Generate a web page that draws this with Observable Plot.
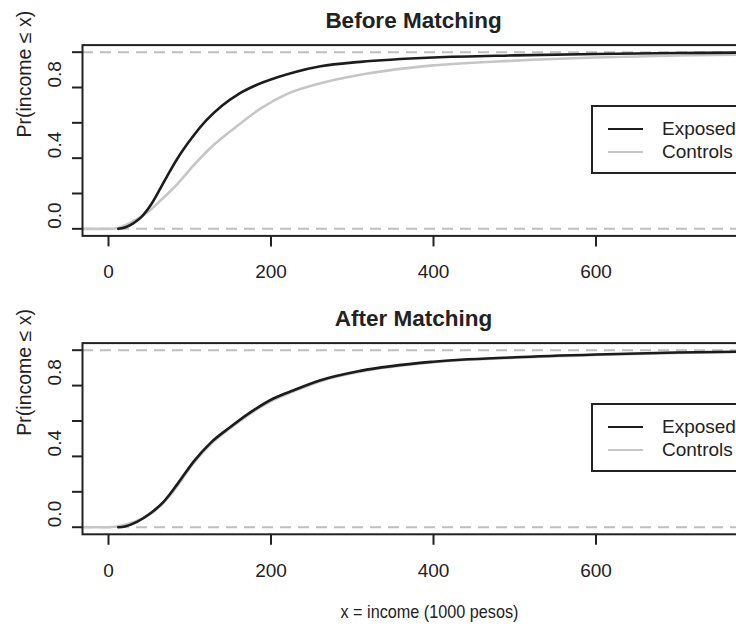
<!DOCTYPE html>
<html>
<head>
<meta charset="utf-8">
<script src="https://cdn.jsdelivr.net/npm/d3@7"></script>
<script src="https://cdn.jsdelivr.net/npm/@observablehq/plot@0.6"></script>
<style>
  html, body { margin: 0; padding: 0; background: #fff; overflow: hidden; }
  #wrap { width: 736px; height: 629px; overflow: hidden; position: relative; font-family: "Liberation Sans", Arial, sans-serif; color: #222; }
  .panel { position: relative; width: 736px; overflow: hidden; }
  .panel svg { display: block; max-width: none !important; width: 790px; }
  .legend { position: absolute; left: 591px; top: 105px; width: 220px; height: 65px; border: 2px solid #222; background: #fff; }
  .legend .sw { position: absolute; left: 15px; width: 35px; height: 0; }
  .legend .lab { position: absolute; left: 69px; font-size: 19px; line-height: 19px; color: #222; white-space: nowrap; }
</style>
</head>
<body>
<div id="wrap"></div>
<script>
// ---- data ----
const titles = ["Before Matching", "After Matching"];
const seriesNames = ["Exposed", "Controls"];
const xTicks = [0, 200, 400, 600];
const yTicks = [0, 0.2, 0.4, 0.6, 0.8, 1.0];
const yTickLabels = [0, 0.4, 0.8];
const yLabel = "Pr(income \u2264 x)";
const xLabel = "x = income (1000 pesos)";

// Before matching: ECDF of income (1000 pesos)
const beforeExposedX = [12, 20, 30, 40, 52, 64, 76, 90, 105, 120, 140, 160, 180, 208, 230, 261, 310, 400, 500, 600, 700, 800, 832];
const beforeExposedP = [0, 0.008, 0.03, 0.065, 0.135, 0.23, 0.33, 0.435, 0.53, 0.612, 0.698, 0.763, 0.81, 0.858, 0.888, 0.92, 0.945, 0.97, 0.982, 0.99, 0.995, 0.998, 1.0];
const beforeControlsX = [-32, 0, 10, 23, 35, 48, 64, 85, 105, 126, 154, 187, 220, 261, 310, 400, 500, 600, 700, 800, 832];
const beforeControlsP = [0, 0, 0.003, 0.025, 0.055, 0.094, 0.16, 0.255, 0.36, 0.46, 0.566, 0.68, 0.764, 0.824, 0.872, 0.925, 0.952, 0.97, 0.981, 0.988, 0.99];

// After matching
const afterExposedX = [12, 20, 35, 52, 68, 85, 105, 126, 150, 175, 203, 228, 261, 310, 400, 500, 600, 700, 800, 832];
const afterExposedP = [0, 0.004, 0.03, 0.08, 0.145, 0.245, 0.372, 0.478, 0.566, 0.65, 0.727, 0.774, 0.83, 0.883, 0.935, 0.96, 0.976, 0.987, 0.993, 0.995];
const afterControlsX = [-32, 0, 10, 25, 40, 55, 70, 85, 105, 126, 150, 175, 203, 228, 261, 310, 400, 500, 600, 700, 800, 832];
const afterControlsP = [0, 0, 0.004, 0.02, 0.045, 0.085, 0.15, 0.235, 0.365, 0.47, 0.56, 0.643, 0.72, 0.768, 0.825, 0.878, 0.932, 0.957, 0.973, 0.985, 0.992, 0.994];

const colExposed = "#1c1c1c";
const colControls = "#c6c6c6";
const FONT = "Liberation Sans, Arial, sans-serif";

function toRows(xs, ps) { return xs.map((x, i) => ({x, p: ps[i]})); }

function panel(title, expX, expP, conX, conP, bottom) {
  const height = bottom ? 331 : 298;
  const marginTop = 44.6;
  const marginBottom = bottom ? 95.2 : 62.6;
  const marks = [
    Plot.ruleY([0, 1], {stroke: "#bfbfbf", strokeWidth: 2, strokeDasharray: "11,7"}),
    Plot.line(toRows(conX, conP), {x: "x", y: "p", stroke: colControls, strokeWidth: 2.6, curve: "monotone-x"}),
    Plot.line(toRows(expX, expP), {x: "x", y: "p", stroke: colExposed, strokeWidth: 2.6, curve: "monotone-x"}),
    Plot.frame({stroke: "#222", strokeWidth: 2}),
    Plot.axisX({ticks: xTicks, tickSize: 11, tickPadding: 18, fontSize: 19, strokeWidth: 2, label: null, tickFormat: d => String(d)}),
    Plot.axisY({ticks: yTicks, tickSize: 10, strokeWidth: 2, label: null, tickFormat: () => ""}),
    Plot.text(yTickLabels, {y: d => d, frameAnchor: "left", dx: -28, rotate: -90, text: d => d.toFixed(1), fontSize: 19, lineAnchor: "middle", fill: "#222"}),
    Plot.text([yLabel], {frameAnchor: "left", dx: -58, dy: -3, rotate: -90, fontSize: 19.5, lineAnchor: "middle", fill: "#222"}),
    Plot.text([title], {frameAnchor: "top", dx: -20, dy: -24.6, fontSize: 22.5, fontWeight: "bold", lineAnchor: "middle", fill: "#222"})
  ];
  if (bottom) {
    marks.push(Plot.text([xLabel], {frameAnchor: "bottom", dx: -4, dy: 78, fontSize: 19, lineAnchor: "middle", fill: "#222"}));
  }
  const svg = Plot.plot({
    width: 790, height,
    marginLeft: 82, marginRight: 6, marginTop, marginBottom,
    x: {domain: [-32, 832]},
    y: {domain: [-0.04, 1.04]},
    style: {fontFamily: FONT, color: "#222", background: "#fff", overflow: "visible", maxWidth: "none"},
    marks
  });
  // the reference draws the x label in a condensed face
  d3.select(svg).selectAll("text")
    .filter(function () { return this.textContent === xLabel; })
    .attr("textLength", 178)
    .attr("lengthAdjust", "spacingAndGlyphs");
  return svg;
}

function legend() {
  const div = document.createElement("div");
  div.className = "legend";
  const cols = [colExposed, colControls];
  const ys = [22, 45];
  seriesNames.forEach((name, i) => {
    const sw = document.createElement("div");
    sw.className = "sw";
    sw.style.top = (ys[i] - 1.3) + "px";
    sw.style.borderTop = "2.6px solid " + cols[i];
    div.appendChild(sw);
    const lab = document.createElement("div");
    lab.className = "lab";
    lab.style.top = (ys[i] - 10) + "px";
    lab.textContent = name;
    div.appendChild(lab);
  });
  return div;
}

const wrap = document.getElementById("wrap");
const data = [
  [beforeExposedX, beforeExposedP, beforeControlsX, beforeControlsP],
  [afterExposedX, afterExposedP, afterControlsX, afterControlsP]
];
titles.forEach((t, i) => {
  const p = document.createElement("div");
  p.className = "panel";
  p.style.height = (i === 1 ? 331 : 298) + "px";
  const [ex, ep, cx, cp] = data[i];
  p.appendChild(panel(t, ex, ep, cx, cp, i === 1));
  p.appendChild(legend());
  wrap.appendChild(p);
});
</script>
</body>
</html>
